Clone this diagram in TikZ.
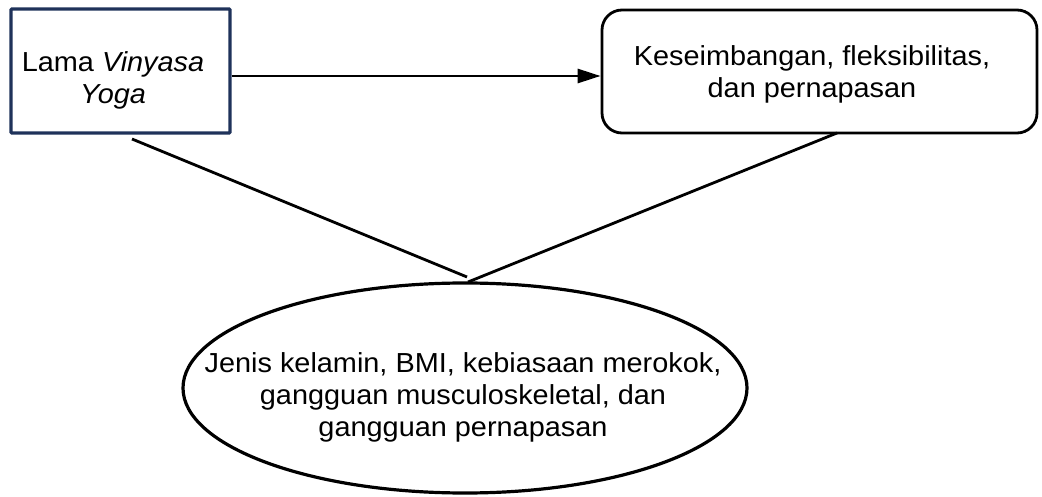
\documentclass[tikz,border=0pt]{standalone}
\usepackage{fontspec}
\setmainfont{Liberation Sans}[FakeStretch=1.05]
\usetikzlibrary{arrows.meta,shapes.geometric}
\definecolor{navy}{RGB}{31,50,90}
\tikzset{
  txt/.style={font=\fontsize{27.5}{32}\selectfont, align=center, inner sep=0pt},
  leftbox/.style={draw=navy, line width=3.2pt, minimum width=219pt, minimum height=124pt, rounded corners=1pt},
  rightbox/.style={draw=black, line width=2.8pt, rounded corners=20pt, minimum width=435pt, minimum height=123pt},
  oval/.style={draw=black, ellipse, line width=3.2pt, minimum width=564pt, minimum height=210pt},
  link/.style={draw=black, line width=2.8pt},
  arr/.style={link, -{Triangle[length=23pt,width=14pt]}}
}
\begin{document}
\begin{tikzpicture}[x=1pt,y=-1pt]
\useasboundingbox (0,0) rectangle (1042,497);
\node[leftbox] (L) at (120.5,71) {};
\node[txt] (Lt) at (113,80) {Lama \textit{Vinyasa}\\ \textit{Yoga}};
\node[rightbox] (R) at (819.5,71.5) {};
\node[txt] (Rt) at (812,74) {Keseimbangan, fleksibilitas,\\ dan pernapasan};
\node[oval] (E) at (465,388) {};
\node[txt] (Et) at (463,397) {Jenis kelamin, BMI, kebiasaan merokok,\\ gangguan musculoskeletal, dan\\ gangguan pernapasan};
\draw[arr] (L.east |- 0,76) -- (R.west |- 0,76);
\coordinate (a1) at (132,139);
\coordinate (a2) at (467,277);
\coordinate (b1) at (837,133);
\coordinate (b2) at (468,282);
\draw[link] (a1) -- (a2);
\draw[link] (b1) -- (b2);
\end{tikzpicture}
\end{document}
